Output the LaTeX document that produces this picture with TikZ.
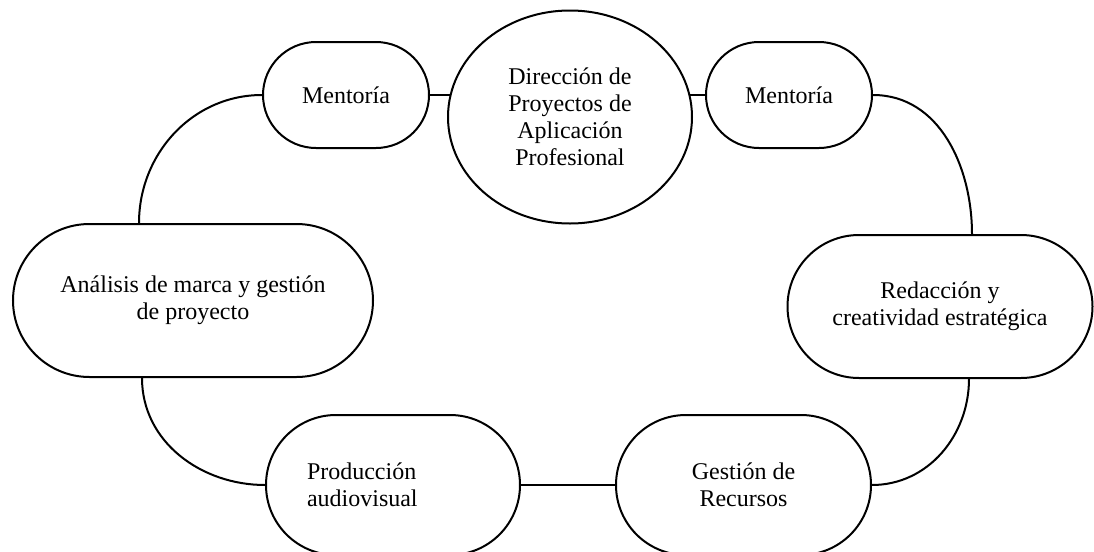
\documentclass[tikz,border=0pt]{standalone}
\usepackage{fontspec}
\setmainfont{Liberation Serif}
\usetikzlibrary{shapes.geometric}

\tikzset{every picture/.style={line width=1pt}}
\tikzset{
  pill/.style={draw, rectangle, rounded corners=#1, inner sep=0pt, align=center, font=\fontsize{12}{13.5}\selectfont},
  oval/.style={draw, ellipse, inner sep=0pt, align=center, font=\fontsize{12}{13.5}\selectfont}
}

\begin{document}
\begin{tikzpicture}[x=0.5pt,y=0.5pt,yscale=-1,xscale=1]
%set diagram size to the reference
\useasboundingbox (0,0) rectangle (1094,552);

%Shape: Ellipse
\node [oval, minimum width=122pt, minimum height=106.5pt] (direccion) at (570,117) {Dirección de\\Proyectos de\\Aplicación\\Profesional};
%Shape: Rounded Rect
\node [pill=26.5pt, minimum width=83pt, minimum height=53pt] (mentIzq) at (346,95) {Mentoría};
%Shape: Rounded Rect
\node [pill=26.5pt, minimum width=83pt, minimum height=53pt] (mentDer) at (789,95) {Mentoría};
%Shape: Rounded Rect
\node [pill=38.25pt, minimum width=180pt, minimum height=76.5pt] (analisis) at (193,300.5) {Análisis de marca y gestión\\de proyecto};
%Shape: Rounded Rect
\node [pill=35.75pt, minimum width=152.5pt, minimum height=71.5pt] (redaccion) at (940,306.5) {Redacción y\\creatividad estratégica};
%Shape: Rounded Rect
\node [pill=35pt, minimum width=127pt, minimum height=70pt, text width=86pt, align=left] (produccion) at (393,485) {Producción\\audiovisual};
%Shape: Rounded Rect
\node [pill=35pt, minimum width=127.5pt, minimum height=70pt] (gestion) at (743.5,485) {Gestión de\\Recursos};

%Straight Lines
\draw (mentIzq.east) -- (direccion.169 |- mentIzq.east);
\draw (direccion.11 |- mentDer.west) -- (mentDer.west);
\draw (produccion.east) -- (gestion.west);

%Curve Lines (y axis is flipped: 90 points down)
\draw (mentIzq.west) to[out=180,in=-90] ([xshift=63.5pt]analisis.north west);
\draw ([xshift=65pt]analisis.south west) to[out=90,in=180] (produccion.west);
\draw (mentDer.east) to[out=0,in=-90] ([xshift=92.75pt]redaccion.north west);
\draw ([xshift=91.25pt]redaccion.south west) to[out=90,in=0] (gestion.east);

\end{tikzpicture}
\end{document}
